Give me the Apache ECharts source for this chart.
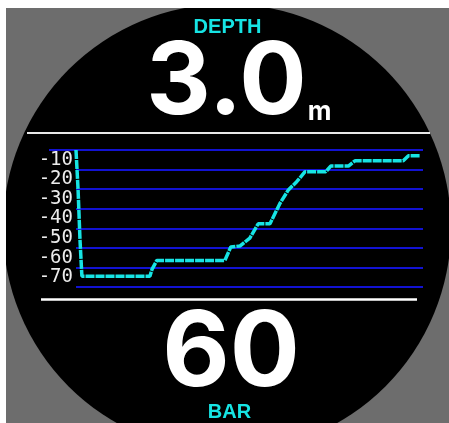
<!DOCTYPE html>
<html>
<head>
<meta charset="utf-8">
<script src="https://cdn.jsdelivr.net/npm/echarts@6/dist/echarts.min.js"></script>
<style>
html,body{margin:0;padding:0;background:#ffffff;}
#c{width:449px;height:423px;}
</style>
</head>
<body>
<div id="c"></div>
<script>
// Dive profile (time in arbitrary units, depth in metres)
const timeVals = [0, 0.6, 1.15, 1.6, 1.7, 21.3, 21.9, 23.3, 42.9, 44.6, 47.3, 50.1, 52.5, 55.9, 58.8, 61.2, 63.6, 66, 72, 73.4, 78.5, 80.4, 94.3, 95.8, 99.1];
const depthVals = [-5, -25.4, -50.9, -66.2, -69.5, -69.5, -66, -61.4, -61.4, -54.6, -54, -50, -42.7, -42.7, -32.2, -25.4, -21.2, -16.1, -16.1, -13.2, -13.2, -10.5, -10.5, -7.9, -7.9];
const depthTickLabels = [-70, -60, -50, -40, -30, -20, -10];
const depthReading = '3.0';
const depthUnit = 'm';
const pressureReading = '60';
const topLabel = 'DEPTH';
const bottomLabel = 'BAR';

const CYAN = '#16e4e4';
const BLUE = '#1212d2';

const chart = echarts.init(document.getElementById('c'), null, {renderer: 'canvas'});
const lineData = timeVals.map((t, i) => [t, depthVals[i]]);

chart.setOption({
  backgroundColor: '#ffffff',
  animation: false,
  grid: {left: 76, right: 26, top: 150, bottom: 136, containLabel: false},
  xAxis: {type: 'value', min: 0, max: 100, show: false},
  yAxis: [
    {
      type: 'value', min: -75, max: -5, interval: 10,
      axisLine: {show: false}, axisTick: {show: false}, axisLabel: {show: false},
      splitLine: {show: true, lineStyle: {color: BLUE, width: 2}}
    },
    {
      type: 'value', min: -75, max: -5, interval: 5, position: 'left',
      axisLine: {show: false}, axisTick: {show: false}, splitLine: {show: false},
      axisLabel: {
        show: true, margin: 3, color: '#ececec',
        fontFamily: 'DejaVu Sans Mono', fontSize: 19,
        formatter: function (v) { return depthTickLabels.indexOf(v) >= 0 ? String(v) : ''; }
      }
    }
  ],
  series: [{
    type: 'line', data: lineData, yAxisIndex: 0, showSymbol: false, z: 5,
    lineStyle: {color: CYAN, width: 3.5, type: [9, 1]}
  }],
  graphic: [
    {type: 'rect', z: -20, silent: true, shape: {x: 6, y: 8, width: 443, height: 415}, style: {fill: '#6d6d6d'}},
    {type: 'circle', z: -19, silent: true, shape: {cx: 227, cy: 228, r: 224}, style: {fill: '#000000'}},
    {type: 'rect', z: -18, silent: true, shape: {x: 0, y: 0, width: 6, height: 423}, style: {fill: '#ffffff'}},
    {type: 'rect', z: -18, silent: true, shape: {x: 0, y: 0, width: 449, height: 8}, style: {fill: '#ffffff'}},
    {type: 'line', z: 10, silent: true, shape: {x1: 27, y1: 133, x2: 430, y2: 133}, style: {stroke: '#e8e8e8', lineWidth: 2}},
    {type: 'line', z: 10, silent: true, shape: {x1: 41, y1: 299.5, x2: 417, y2: 299.5}, style: {stroke: '#ffffff', lineWidth: 2.5}},
    {type: 'line', z: 1, silent: true, shape: {x1: 49, y1: 150, x2: 77, y2: 150}, style: {stroke: BLUE, lineWidth: 2}},
    {type: 'text', z: 10, silent: true, style: {text: topLabel, x: 227.5, y: 27, align: 'center', verticalAlign: 'middle', fill: CYAN, fontFamily: 'Liberation Sans', fontWeight: 'bold', fontSize: 20}},
    {type: 'text', z: 10, silent: true, style: {text: depthReading, x: 226.5, y: 84, align: 'center', verticalAlign: 'middle', fill: '#ffffff', fontFamily: 'Inter', fontWeight: 'bold', fontSize: 100}},
    {type: 'text', z: 10, silent: true, style: {text: depthUnit, x: 319.5, y: 112, align: 'center', verticalAlign: 'middle', fill: '#ffffff', fontFamily: 'Inter', fontWeight: 'bold', fontSize: 26}},
    {type: 'text', z: 10, silent: true, style: {text: pressureReading, x: 231, y: 355, align: 'center', verticalAlign: 'middle', fill: '#ffffff', fontFamily: 'Inter', fontWeight: 'bold', fontSize: 104}},
    {type: 'text', z: 10, silent: true, style: {text: bottomLabel, x: 229.5, y: 412, align: 'center', verticalAlign: 'middle', fill: CYAN, fontFamily: 'Liberation Sans', fontWeight: 'bold', fontSize: 20}}
  ]
});
</script>
</body>
</html>
